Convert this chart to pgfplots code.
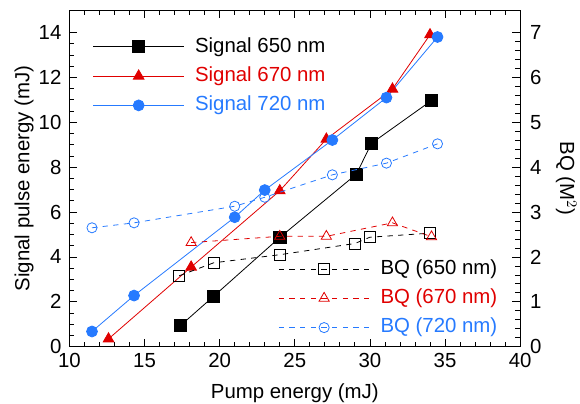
\documentclass[border=0pt]{standalone}
\usepackage{fontspec}
\setmainfont{Liberation Sans}
\usepackage{pgfplots}
\pgfplotsset{compat=1.18}
\definecolor{cred}{RGB}{224,0,0}
\definecolor{cblue}{RGB}{38,122,255}
\begin{document}
\begin{tikzpicture}[font=\fontsize{15.3}{18}\selectfont]
\pgfplotsset{
  common/.style={
    scale only axis, width=338pt, height=252.5pt,
    xmin=10, xmax=40,
    /pgf/number format/assume math mode=true,
    tick align=inside,
    major tick length=6pt, minor tick length=3.5pt,
    every tick/.style={black, line width=0.6pt},
    axis line style={line width=0.8pt},
    legend cell align=left,
    legend image code/.code={\draw[mark repeat=2,mark phase=2] plot coordinates {(0pt,0pt) (34pt,0pt) (68pt,0pt)}; \path (75pt,0pt);},
  },
}
\begin{axis}[common,
  ymin=0, ymax=15,
  ytick={0,2,...,14}, minor y tick num=3,
  xtick={10,15,...,40}, minor x tick num=4,
  xtick pos=both, xticklabel pos=bottom,
  ytick pos=left, yticklabel pos=left,
  xticklabel style={yshift=-1.5pt},
  yticklabel style={xshift=-2.5pt},
  xlabel={Pump energy (mJ)},
  ylabel={Signal pulse energy (mJ)},
  xlabel style={yshift=-5pt},
  ylabel style={yshift=-3pt},
  legend style={draw=none, fill=none, at={(0.0515,0.804)}, anchor=west, inner sep=0pt,
    row sep=6pt, nodes={inner sep=1pt, text height=11pt, text depth=3pt}},
]
\addplot[black, line width=0.6pt, mark=square*, mark size=4.6pt, mark options={solid}] coordinates {
(17.4,0.95) (19.6,2.25) (24.0,4.87) (29.1,7.69) (30.1,9.06) (34.1,10.97)};
\addlegendentry{Signal 650 nm}
\addplot[cred, line width=0.6pt, mark=triangle*, mark size=4.6pt, mark options={solid}] coordinates {
(12.6,0.35) (18.1,3.55) (24.0,6.95) (27.1,9.25) (31.5,11.48) (34.0,13.9)};
\addlegendentry{\textcolor{cred}{Signal 670 nm}}
\addplot[cblue, line width=0.6pt, mark=*, mark size=4.1pt, mark options={solid}] coordinates {
(11.5,0.68) (14.3,2.28) (21.0,5.77) (23.0,6.98) (27.5,9.21) (31.1,11.1) (34.5,13.8)};
\addlegendentry{\textcolor{cblue}{Signal 720 nm}}
\end{axis}
\begin{axis}[common,
  ymin=0, ymax=7.5,
  ytick={0,1,...,7}, minor y tick num=4,
  axis x line=none,
  axis y line*=right,
  ytick pos=right, yticklabel pos=right,
  yticklabel style={xshift=4pt},
  ylabel={BQ (M$^2$)},
  ylabel style={rotate=180, yshift=4pt},
  legend style={draw=none, fill=none, at={(0.463,0.144)}, anchor=west, inner sep=0pt,
    row sep=6pt, nodes={inner sep=1pt, text height=11pt, text depth=3pt}},
]
\addplot[black, line width=0.6pt, dash pattern=on 4pt off 4pt, mark=square, mark size=4.1pt, mark options={solid}] coordinates {
(17.3,1.58) (19.6,1.87) (24.0,2.05) (29.0,2.30) (30.0,2.44) (34.0,2.53)};
\addlegendentry{BQ (650 nm)}
\addplot[cred, line width=0.6pt, dash pattern=on 4pt off 4pt, mark=triangle, mark size=4.4pt, mark options={solid}] coordinates {
(18.1,2.32) (24.0,2.46) (27.1,2.46) (31.5,2.76) (34.1,2.45)};
\addlegendentry{\textcolor{cred}{BQ (670 nm)}}
\addplot[cblue, line width=0.6pt, dash pattern=on 4pt off 4pt, mark=o, mark size=3.8pt, mark options={solid}] coordinates {
(11.5,2.65) (14.3,2.76) (21.0,3.13) (23.0,3.33) (27.5,3.83) (31.1,4.09) (34.5,4.52)};
\addlegendentry{\textcolor{cblue}{BQ (720 nm)}}
\end{axis}
\pgfresetboundingbox
\path[use as bounding box] (current axis.south west) ++(-52.1pt,-42.2pt) rectangle ++(435pt,302.25pt);
\end{tikzpicture}
\end{document}
